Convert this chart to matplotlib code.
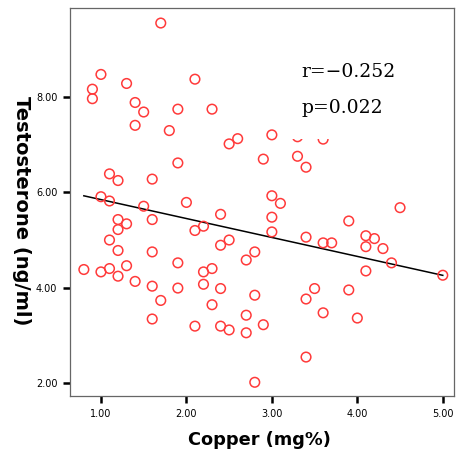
import matplotlib
matplotlib.use('Agg')
import matplotlib.pyplot as plt
import numpy as np

# copper (mg%) and testosterone (ng/ml)
copper = [1.7, 1.0, 1.3, 2.1, 0.9, 0.9, 1.4, 1.5, 1.9, 2.3,
          1.4, 1.8, 3.0, 2.5, 2.6, 2.9, 1.9, 1.1, 1.2, 1.6,
          1.0, 1.1, 1.5, 2.0, 2.4, 1.2, 1.3, 1.6, 1.2, 2.1,
          2.2, 1.1, 2.4, 2.5, 1.2, 1.6, 2.8, 2.7, 1.9, 0.8,
          1.0, 1.1, 1.3, 2.2, 2.3, 1.2, 1.4, 1.6, 1.9, 2.2,
          2.4, 2.8, 1.7, 2.3, 2.7, 1.6, 2.1, 2.4, 2.5, 2.7,
          2.9, 2.8, 3.0, 3.1, 4.5, 3.0, 3.9, 3.0, 3.4, 3.6,
          3.7, 4.1, 4.2, 4.1, 4.3, 4.4, 4.1, 5.0, 3.5, 3.4,
          3.9, 3.6, 4.0, 3.4, 3.3, 3.6, 3.3, 3.4]
testosterone = [9.56, 8.48, 8.29, 8.38, 8.17, 7.97, 7.89, 7.69, 7.75, 7.75,
                7.41, 7.30, 7.21, 7.02, 7.13, 6.70, 6.62, 6.39, 6.25, 6.28,
                5.91, 5.82, 5.71, 5.79, 5.54, 5.43, 5.34, 5.43, 5.22, 5.20,
                5.29, 5.00, 4.89, 5.00, 4.78, 4.75, 4.75, 4.58, 4.52, 4.38,
                4.33, 4.40, 4.46, 4.33, 4.40, 4.24, 4.13, 4.03, 3.99, 4.07,
                3.98, 3.84, 3.73, 3.64, 3.42, 3.34, 3.19, 3.19, 3.11, 3.05,
                3.22, 2.01, 5.93, 5.77, 5.68, 5.48, 5.40, 5.17, 5.06, 4.94,
                4.94, 5.09, 5.03, 4.86, 4.82, 4.52, 4.35, 4.26, 3.98, 3.76,
                3.95, 3.47, 3.36, 2.54, 7.17, 7.12, 6.76, 6.53]
r_text = 'r=\u22120.252'
p_text = 'p=0.022'

x_ticks = [1, 2, 3, 4, 5]
y_ticks = [2, 4, 6, 8]

x = np.array(copper)
y = np.array(testosterone)

fig = plt.figure(figsize=(4.57, 4.65), dpi=100)
ax = fig.add_axes([0.153, 0.148, 0.84, 0.835])

ax.scatter(x, y, s=48, facecolors='none', edgecolors='#ff3a3a', linewidths=1.1, zorder=3)

# least squares fit line over the data range
slope, intercept = np.polyfit(x, y, 1)
xs = np.array([x.min(), x.max()])
ax.plot(xs, intercept + slope * xs, color='black', lw=1.1, zorder=2)

# stats label, white box hides the points under it
ax.text(3.35, 8.43, r_text, fontsize=13.5, family='DejaVu Serif',
        va='baseline', ha='left', zorder=6)
ax.text(3.35, 7.67, p_text, fontsize=13.5, family='DejaVu Serif',
        va='baseline', ha='left', zorder=5,
        bbox=dict(facecolor='white', edgecolor='none', boxstyle='square,pad=1.15'))

ax.set_xlim(0.637, 5.129)
ax.set_ylim(1.718, 9.878)
ax.set_xticks(x_ticks)
ax.set_xticklabels(['%.2f' % v for v in x_ticks])
ax.set_yticks(y_ticks)
ax.set_yticklabels(['%.2f' % v for v in y_ticks])
ax.tick_params(direction='out', length=5, width=1.8, labelsize=7, pad=4)

for s in ax.spines.values():
    s.set_color('#666666')
    s.set_linewidth(0.9)

fig.text(259 / 457, 1 - 440 / 465, 'Copper (mg%)', ha='center', va='center',
         fontsize=12.8, fontweight='bold')
fig.text(21 / 457, 1 - 211 / 465, 'Testosterone (ng/ml)', ha='center', va='center',
         fontsize=14, fontweight='bold', rotation=-90)

fig.savefig('out.png', dpi=100)
